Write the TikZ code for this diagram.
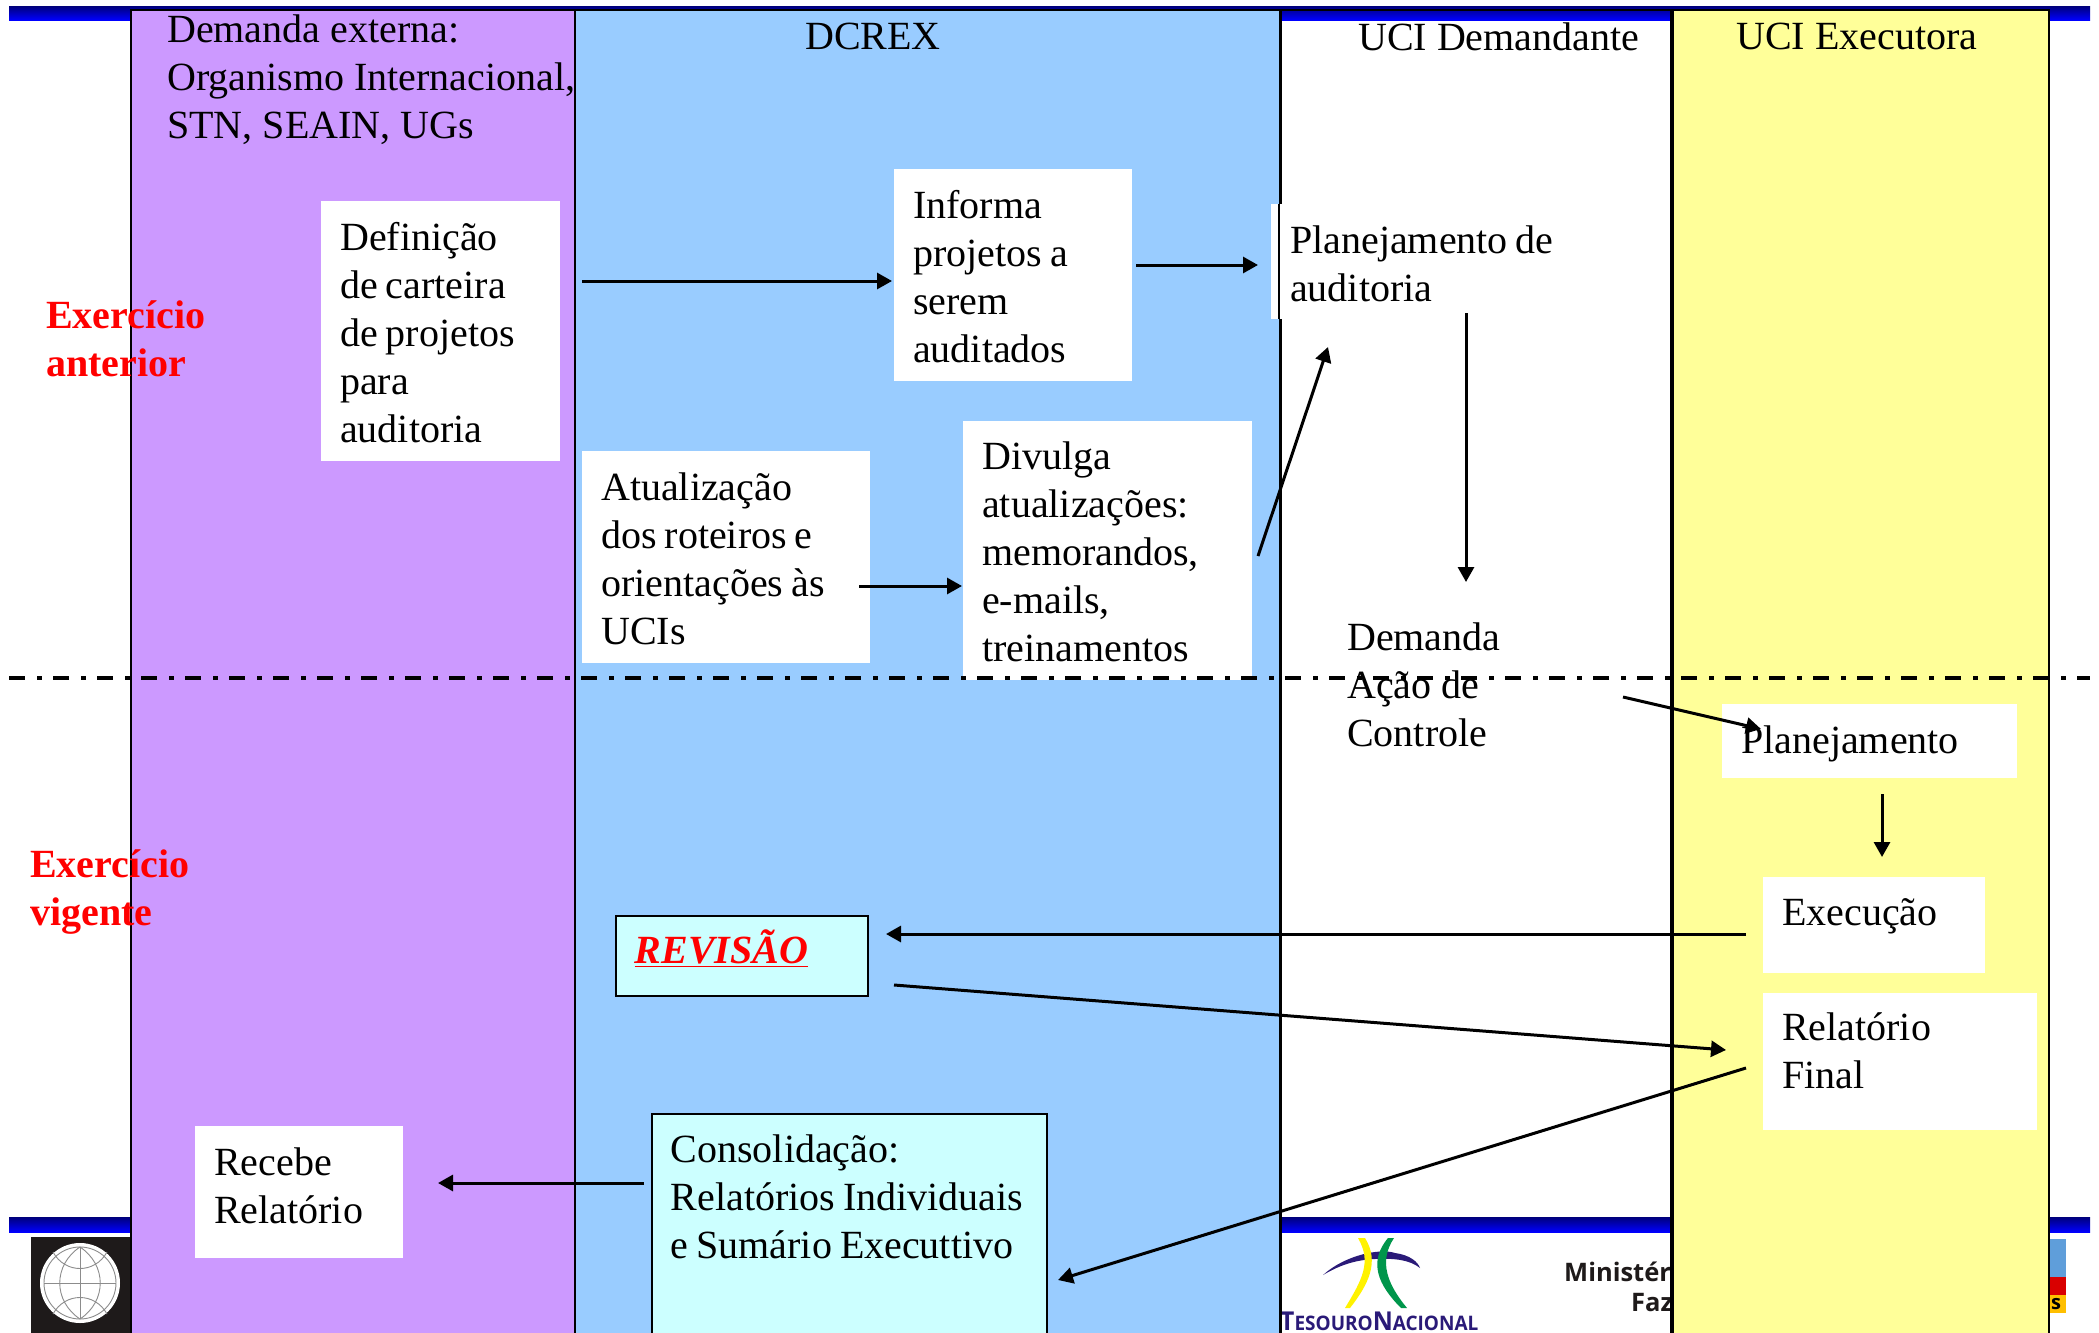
\documentclass[tikz,border=0pt]{standalone}
\usepackage{fontspec}
\setmainfont{Liberation Serif}
\newfontfamily\logosans{Open Sans}
\usetikzlibrary{arrows.meta}
\definecolor{cpurple}{HTML}{CC99FF}
\definecolor{cblue}{HTML}{99CCFF}
\definecolor{cyellow}{HTML}{FFFF99}
\definecolor{ccyan}{HTML}{CCFFFF}
\definecolor{tnavy}{HTML}{2A1A78}
\definecolor{tgreen}{HTML}{00964B}
\definecolor{tyellow}{HTML}{FFF200}
\definecolor{logoblack}{HTML}{1E1A1A}
% box text: [first baseline below the top edge], height, width, then the lines
\newcommand\boxtext[4][49]{\parbox[t][#2pt][t]{#3pt}{\raggedright\spaceskip=0.2em\relax\rule{0pt}{#1pt}#4}}
\tikzset{
  x=1pt,y=-1pt,
  column/.style={draw=black,line width=2.6pt},
  bar/.style={top color=black!0!blue!48!black,bottom color=blue,draw=none},
  txt/.style={anchor=north west,inner sep=0pt,align=left,font=\fontsize{40}{48}\selectfont},
  boxw/.style={anchor=north west,fill=white,inner ysep=0pt,inner xsep=19pt,font=\fontsize{40}{48}\selectfont},
  boxc/.style={boxw,fill=ccyan,draw=black,line width=1.5pt},
  redlabel/.style={txt,text=red,font=\fontsize{40}{48}\selectfont\bfseries},
  conn/.style={draw=black,line width=3pt,-{Triangle[length=15pt,width=16pt]}},
  globeline/.style={draw=black!45,line width=0.9pt},
}
\begin{document}
\begin{tikzpicture}
\useasboundingbox (0,0) rectangle (2099,1333);
\fill[white] (0,0) rectangle (2099,1333);
% header and footer bars
\shade[bar] (9,6) rectangle (2090,20);
\shade[bar] (9,1217) rectangle (2090,1232);
% left logo
\fill[logoblack] (31,1237) rectangle (131,1333);
\begin{scope}
\fill[white] (80,1283) ellipse [x radius=40,y radius=40];
\draw[globeline] (80,1283) ellipse [x radius=36,y radius=36];
\draw[globeline] (44,1283) -- (116,1283);
\draw[globeline] (80,1247) -- (80,1319);
\draw[globeline] (80,1247) .. controls (53,1265) and (53,1301) .. (80,1319);
\draw[globeline] (80,1247) .. controls (107,1265) and (107,1301) .. (80,1319);
\draw[globeline] (53,1252) .. controls (65,1274) and (95,1274) .. (107,1252);
\draw[globeline] (53,1314) .. controls (65,1292) and (95,1292) .. (107,1314);
\end{scope}
% Tesouro logo
\fill[tnavy] (1323,1275) .. controls (1345,1255) and (1380,1248) .. (1395,1253) .. controls (1410,1255) and (1418,1262) .. (1420,1268) .. controls (1410,1260) and (1395,1258) .. (1375,1259) .. controls (1355,1260) and (1340,1265) .. (1323,1275) -- cycle;
\fill[tyellow] (1358,1238) -- (1365,1238) .. controls (1380,1262) and (1368,1285) .. (1350,1308) -- (1345,1308) .. controls (1362,1280) and (1372,1262) .. (1358,1238) -- cycle;
\fill[tgreen] (1388,1238) -- (1394,1238) .. controls (1378,1262) and (1388,1285) .. (1407,1308) -- (1401,1308) .. controls (1378,1285) and (1368,1262) .. (1388,1238) -- cycle;
\node[anchor=base west,inner sep=0pt,text=tnavy,font=\logosans\bfseries] (tesouro) at (1280,1330)
  {\scalebox{0.95}[1]{\fontsize{26}{27}\selectfont T\fontsize{20}{27}\selectfont ESOURO\fontsize{26}{27}\selectfont N\fontsize{20}{27}\selectfont ACIONAL}};
\node[anchor=base west,inner sep=0pt,text=logoblack,font=\logosans\bfseries\fontsize{25.5}{27}\selectfont] (minist) at (1564,1281) {Minist\'er};
\node[anchor=base west,inner sep=0pt,text=logoblack,font=\logosans\bfseries\fontsize{25.5}{27}\selectfont] (faz) at (1631,1311) {Faz};
% right logo
\fill[cyan!60!blue!65] (2040,1239) rectangle (2066,1277);
\fill[red!85!black] (2040,1277) rectangle (2066,1295);
\fill[orange!50!yellow] (2040,1295) rectangle (2066,1313);
\node[anchor=base west,inner sep=0pt,font=\logosans\bfseries\fontsize{20}{24}\selectfont] (slogo) at (2051,1309) {s};
% columns
\path[fill=cpurple] (131,10) rectangle (575,1340);
\path[fill=cblue] (575,10) rectangle (1280,1340);
\path[fill=cyellow] (1672,10) rectangle (2049,1340);
\draw[column] (131,1340) -- (131,10) -- (2049,10) -- (2049,1340);
\draw[column] (575,10) -- (575,1340);
\draw[column,line width=3pt] (1280,10) -- (1280,1340);
\draw[column,line width=3.5pt] (1672,10) -- (1672,1340);
% column titles
\node[txt] (dem) at (167,15) {Demanda externa:\\Organismo Internacional,\\STN, SEAIN, UGs};
\node[txt] (dcrex) at (805,23) {DCREX};
\node[txt] (ucid) at (1358,23) {UCI Demandante};
\node[txt] (ucie) at (1736,23) {UCI Executora};
% boxes
\node[boxw] (def) at (321,201) {\boxtext{260}{201}{Defini\c{c}\~ao\\de carteira\\de projetos\\para\\auditoria}};
\node[boxw] (inf) at (894,169) {\boxtext{212}{200}{Informa\\projetos a\\serem\\auditados}};
\node[boxw] (plan) at (1271,204) {\boxtext{115}{331}{Planejamento de\\auditoria}};
\node[boxw] (atu) at (582,451) {\boxtext{212}{250}{Atualiza\c{c}\~ao\\dos roteiros e\\orienta\c{c}\~oes \`as\\UCIs}};
\node[boxw,xshift=1pt] (div) at (962,421) {\boxtext[48]{259}{251}{Divulga\\atualiza\c{c}\~oes:\\memorandos,\\e-mails,\\treinamentos}};
\node[boxw] (pla) at (1722,704) {\boxtext{74}{257}{Planejamento}};
\node[boxw] (exe) at (1763,877) {\boxtext[48]{96}{184}{Execu\c{c}\~ao}};
\node[boxw] (rel) at (1763,993) {\boxtext[47]{137}{236}{Relat\'orio\\Final}};
\node[boxc] (rev) at (615,915) {\boxtext[48]{80}{214}{\textcolor{red}{\bfseries\itshape\underline{REVIS\~AO}}}};
\node[boxc] (con) at (651,1113) {\boxtext{232}{357}{Consolida\c{c}\~ao:\\Relat\'orios Individuais\\e Sum\'ario Executtivo}};
\node[boxw] (rec) at (195,1126) {\boxtext{132}{170}{Recebe\\Relat\'orio}};
\draw[black,line width=1.5pt] (1279,204) -- (1279,319);
% free text
\node[txt] (acao) at (1347,623) {Demanda\\A\c{c}\~ao de\\Controle};
\node[redlabel] (ea) at (46,301) {Exerc\'icio\\anterior};
\node[redlabel] (ev) at (30,849) {Exerc\'icio\\vigente};
% connector ends
\coordinate (a1s) at (582,281); \coordinate (a1e) at (892,281);
\coordinate (a2s) at (1136,265); \coordinate (a2e) at (1258,265);
\coordinate (a3s) at (1258,556); \coordinate (a3e) at (1328,347);
\coordinate (a4s) at (1466,313); \coordinate (a4e) at (1466,582);
\coordinate (a5s) at (859,586); \coordinate (a5e) at (962,586);
\coordinate (a6s) at (1623,697); \coordinate (a6e) at (1761,729);
\coordinate (a7s) at (1882,794); \coordinate (a7e) at (1882,857);
\coordinate (a8s) at (1746,934); \coordinate (a8e) at (886,934);
\coordinate (a9s) at (894,985); \coordinate (a9e) at (1726,1050);
\coordinate (a10s) at (1746,1068); \coordinate (a10e) at (1058,1280);
\coordinate (a11s) at (644,1183); \coordinate (a11e) at (438,1183);
% divider
\coordinate (dl) at (9,678); \coordinate (dr) at (2090,678);
\draw[black,line width=4.5pt,dash pattern=on 16pt off 12pt on 5pt off 11pt] (dl) -- (dr);
% connectors
\foreach \n in {1,...,11} \draw[conn] (a\n s) -- (a\n e);
\end{tikzpicture}
\end{document}
